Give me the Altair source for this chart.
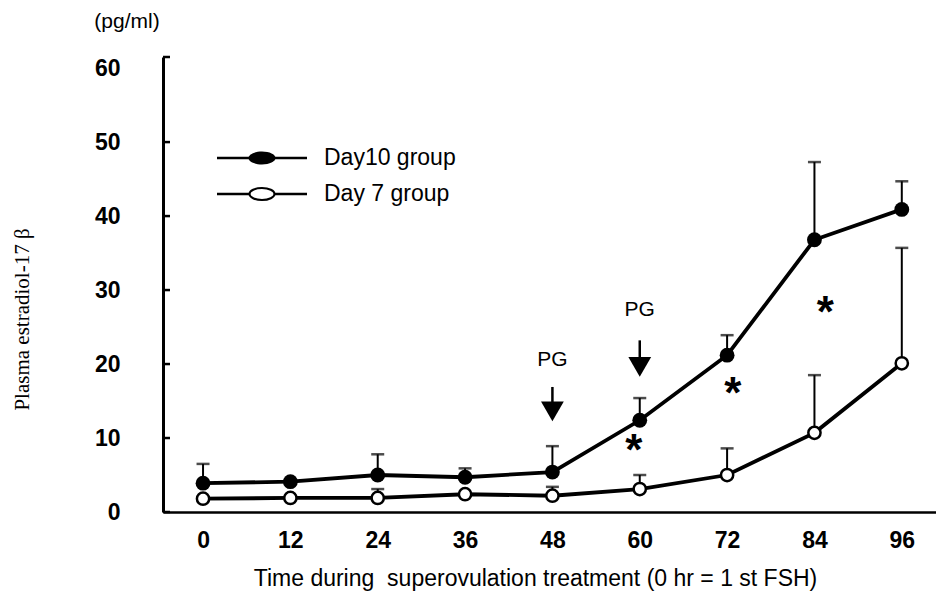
import altair as alt
import pandas as pd

# ---- data ----
hours = [0, 12, 24, 36, 48, 60, 72, 84, 96]
day10_mean = [3.9, 4.1, 5.0, 4.7, 5.4, 12.4, 21.2, 36.8, 40.9]
day10_upper = [6.5, None, 7.8, 5.9, 8.9, 15.4, 23.9, 47.3, 44.7]
day7_mean = [1.8, 1.9, 1.9, 2.4, 2.2, 3.1, 5.0, 10.7, 20.1]
day7_upper = [None, None, 3.1, None, 3.4, 5.0, 8.6, 18.5, 35.7]

y_labels = [0, 10, 20, 30, 40, 50, 60]
y_top = 61.5                      # the drawn axis runs a little past 60
y_tick_marks = [0, 10, 20, 30, 40, 50, y_top]

# annotations
pg_hours = [48, 60]
pg_label_val = [20.5, 27.3]
pg_arrow_top = [16.9, 23.2]
pg_arrow_head = [13.6, 19.6]
star_hours = [59.2, 72.8, 85.5]
star_val = [9.3, 17.0, 28.0]

FONT = "Liberation Sans"

rows = []
for g, m, u in (("Day10 group", day10_mean, day10_upper), ("Day 7 group", day7_mean, day7_upper)):
    for h, mv, uv in zip(hours, m, u):
        rows.append({"group": g, "hour": h, "val": mv, "upper": uv})
df = pd.DataFrame(rows)
df10 = df[df.group == "Day10 group"]
df7 = df[df.group == "Day 7 group"]
err = df.dropna(subset=["upper"])

xscale = alt.Scale(domain=[-5.5, 100.7], nice=False, zero=False)
yscale = alt.Scale(domain=[0, y_top], nice=False)

xaxis = alt.Axis(values=hours, ticks=False, tickSize=0, grid=False, domainWidth=2.5,
                 domainColor="black", labelFont=FONT, labelFontSize=23, labelFontWeight="bold",
                 labelColor="black", labelPadding=17,
                 title="Time during \u00a0superovulation treatment (0 hr = 1 st FSH)",
                 titleFont=FONT, titleFontSize=23, titleFontWeight="normal", titleColor="black",
                 titleX=372, titleY=66, titleAlign="center", titleBaseline="middle")
yaxis = alt.Axis(values=y_labels, ticks=False, tickSize=0, grid=False, domainWidth=3,
                 domainColor="black", labelFont=FONT, labelFontSize=23, labelFontWeight="bold",
                 labelColor="black", labelPadding=43,
                 title="Plasma estradiol-17 β", titleFont="Liberation Serif", titleFontSize=21,
                 titleFontWeight="normal", titleColor="black", titleX=-141, titleY=262,
                 titleAngle=-90, titleAlign="center", titleBaseline="middle")

X = alt.X("hour:Q", scale=xscale, axis=xaxis)
Y = alt.Y("val:Q", scale=yscale, axis=yaxis)

# inward y ticks
yt = alt.Chart(pd.DataFrame({"val": y_tick_marks})).mark_rule(color="black", strokeWidth=2.5).encode(
    y=Y, x=alt.value(0), x2=alt.value(7))

lines = alt.Chart(df).mark_line(color="black", strokeWidth=3.8).encode(
    x=X, y=Y, detail="group:N")

ebar = alt.Chart(err).mark_rule(color="black", strokeWidth=2).encode(
    x=X, y=Y, y2="upper:Q")
caps = alt.Chart(err).mark_tick(color="black", orient="horizontal", size=13, thickness=2.5).encode(
    x=X, y=alt.Y("upper:Q", scale=yscale, axis=yaxis))

pts10 = alt.Chart(df10).mark_point(filled=True, color="black", size=220, opacity=1).encode(x=X, y=Y)
pts7 = alt.Chart(df7).mark_point(filled=True, fill="white", stroke="black", strokeWidth=2.5,
                                 size=150, opacity=1).encode(x=X, y=Y)

pgdf = pd.DataFrame({"hour": pg_hours, "val": pg_label_val, "top": pg_arrow_top, "head": pg_arrow_head})
pg_text = alt.Chart(pgdf).mark_text(text="PG", font=FONT, fontSize=21, color="black",
                                    baseline="middle", align="center").encode(x=X, y=Y)
pg_shaft = alt.Chart(pgdf).mark_rule(color="black", strokeWidth=2.5).encode(
    x=X, y=alt.Y("top:Q", scale=yscale, axis=yaxis), y2="head:Q")
pg_head = alt.Chart(pgdf).mark_point(shape="triangle-down", filled=True, color="black",
                                     size=520, opacity=1).encode(
    x=X, y=alt.Y("head:Q", scale=yscale, axis=yaxis))

stars = alt.Chart(pd.DataFrame({"hour": star_hours, "val": star_val})).mark_text(
    text="*", font=FONT, fontSize=44, fontWeight="bold", color="black", dy=9,
    baseline="middle", align="center").encode(x=X, y=Y)

# legend (hand-drawn like the original)
ell = "M-1,0A1,0.48,0,1,0,1,0A1,0.48,0,1,0,-1,0Z"
leg_names = ["Day10 group", "Day 7 group"]
leg_y = [101, 137]
leg_layers = []
for name, yy, filled in zip(leg_names, leg_y, [True, False]):
    base = alt.Chart(pd.DataFrame({"name": [name]}))
    leg_layers.append(base.mark_rule(color="black", strokeWidth=2.5).encode(
        x=alt.value(54), x2=alt.value(144), y=alt.value(yy)))
    if filled:
        leg_layers.append(base.mark_point(shape=ell, filled=True, color="black", size=729,
                                          opacity=1).encode(x=alt.value(99), y=alt.value(yy)))
    else:
        leg_layers.append(base.mark_point(shape=ell, filled=True, fill="white", stroke="black",
                                          strokeWidth=2, size=625, opacity=1).encode(
            x=alt.value(99), y=alt.value(yy)))
    leg_layers.append(base.mark_text(font=FONT, fontSize=23, color="black", align="left",
                                     baseline="middle").encode(
        x=alt.value(161), y=alt.value(yy), text="name:N"))

unit = alt.Chart(pd.DataFrame({"u": ["(pg/ml)"]})).mark_text(
    font=FONT, fontSize=21, color="black", align="center", baseline="middle").encode(
    x=alt.value(-36), y=alt.value(-35), text="u:N")

chart = alt.layer(yt, lines, ebar, caps, pts10, pts7, pg_shaft, pg_head, pg_text, stars,
                  *leg_layers, unit).properties(
    width=773, height=455,
    autosize=alt.AutoSizeParams(type="none"),
    padding={"left": 155, "top": 49, "right": 0, "bottom": 80},
    background="white",
).configure_view(stroke=None)

chart.save("out.html", embed_options={"renderer": "svg", "actions": False})
